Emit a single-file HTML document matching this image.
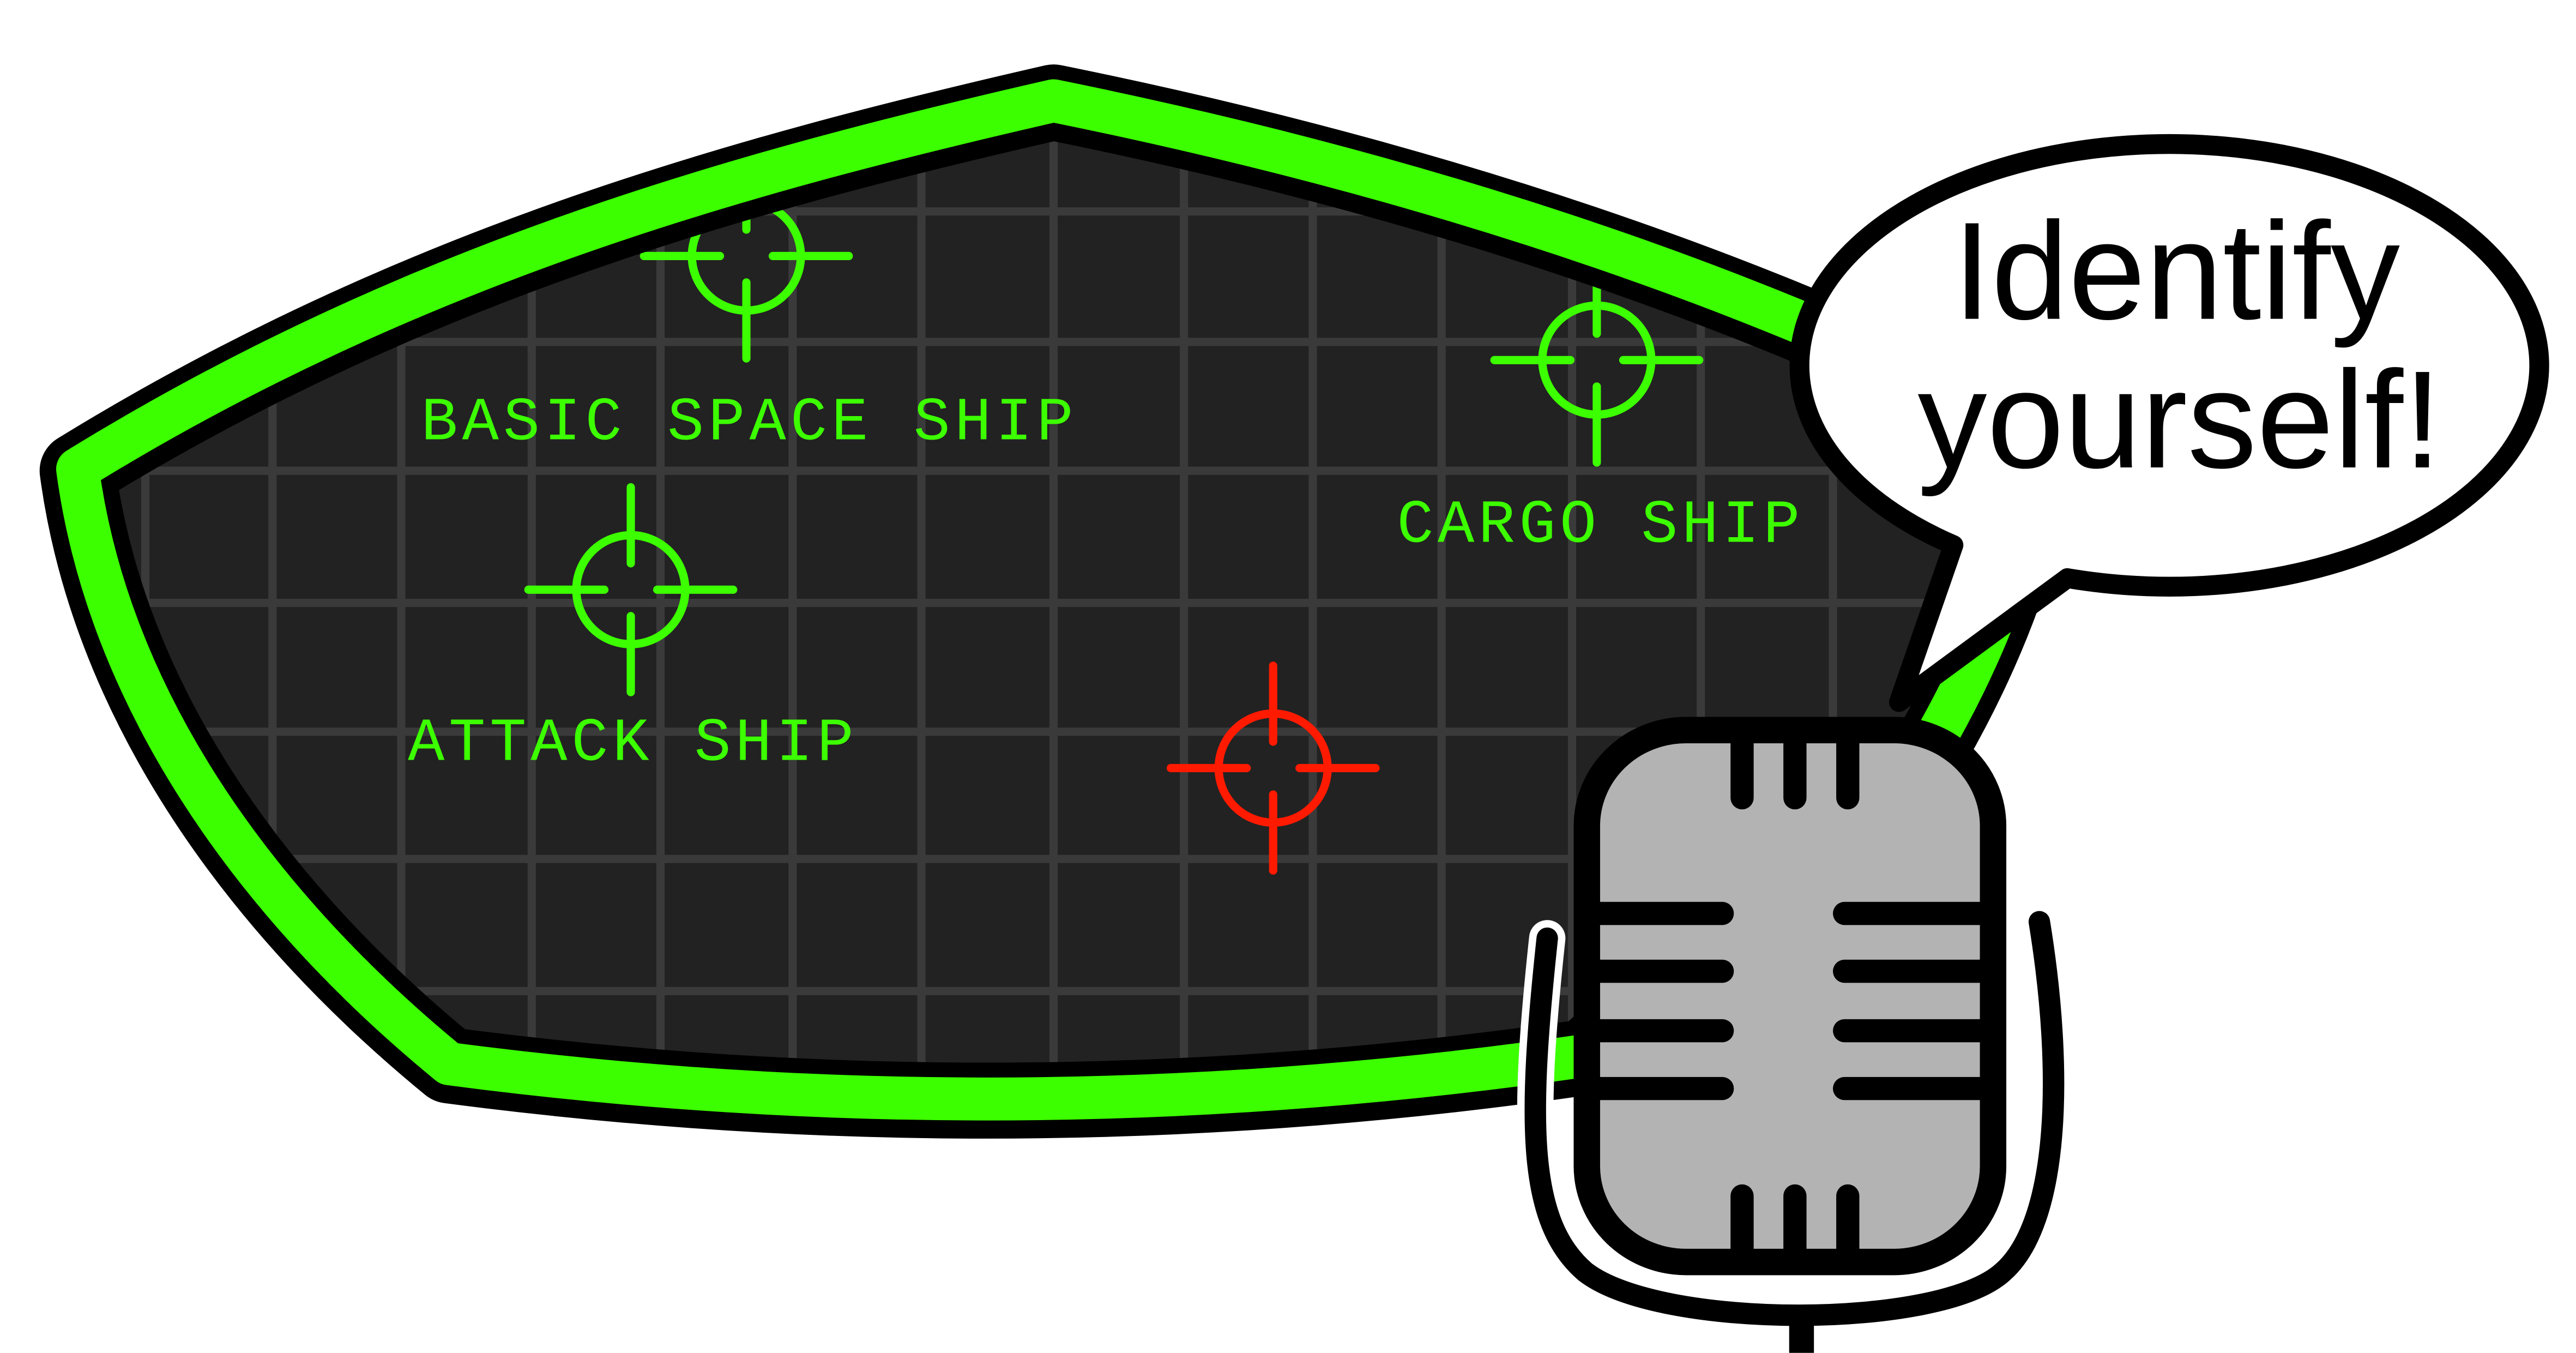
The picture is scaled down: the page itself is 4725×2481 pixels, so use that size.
<!DOCTYPE html>
<html><head><meta charset="utf-8"><style>html,body{margin:0;padding:0;background:#fff}svg{display:block}</style></head>
<body>
<svg width="4725" height="2481" viewBox="0 0 1560 819.1" preserveAspectRatio="none" xmlns="http://www.w3.org/2000/svg">
<defs>
<clipPath id="ci"><path d="M638,62 C 900,115 1095,190 1238,265 C 1225,340 1200,400 1168,455 L 960,640 Q 615,690 272,645 C 150,545 65,420 47,285 C 250,160 450,105 638,62 Z"/></clipPath>
</defs>
<g clip-path="url(#ci)">
<rect x="0" y="0" width="1560" height="819" fill="#222"/>
<g stroke="#3a3a3a" stroke-width="5">
<line x1="88" y1="0" x2="88" y2="819"/><line x1="165" y1="0" x2="165" y2="819"/><line x1="243" y1="0" x2="243" y2="819"/><line x1="322" y1="0" x2="322" y2="819"/><line x1="400" y1="0" x2="400" y2="819"/><line x1="480" y1="0" x2="480" y2="819"/><line x1="558" y1="0" x2="558" y2="819"/><line x1="638" y1="0" x2="638" y2="819"/><line x1="717" y1="0" x2="717" y2="819"/><line x1="795" y1="0" x2="795" y2="819"/><line x1="873" y1="0" x2="873" y2="819"/><line x1="952" y1="0" x2="952" y2="819"/><line x1="1030" y1="0" x2="1030" y2="819"/><line x1="1110" y1="0" x2="1110" y2="819"/><line x1="1188" y1="0" x2="1188" y2="819"/>
<line x1="0" y1="128" x2="1560" y2="128"/><line x1="0" y1="207" x2="1560" y2="207"/><line x1="0" y1="285" x2="1560" y2="285"/><line x1="0" y1="365" x2="1560" y2="365"/><line x1="0" y1="443" x2="1560" y2="443"/><line x1="0" y1="520" x2="1560" y2="520"/><line x1="0" y1="600" x2="1560" y2="600"/>
</g>
<g fill="none" stroke-width="5" stroke-linecap="round">
<g stroke="#3cff00" transform="translate(452,155)"><circle r="33"/><path d="M-62,0H-16M16,0H62M0,-62V-16M0,16V62"/></g>
<g stroke="#3cff00" transform="translate(967,218)"><circle r="33"/><path d="M-62,0H-16M16,0H62M0,-62V-16M0,16V62"/></g>
<g stroke="#3cff00" transform="translate(382,357)"><circle r="33"/><path d="M-62,0H-16M16,0H62M0,-62V-16M0,16V62"/></g>
<g stroke="#ff1a00" transform="translate(771,465)"><circle r="33"/><path d="M-62,0H-16M16,0H62M0,-62V-16M0,16V62"/></g>
</g>
<g fill="#3cff00" font-family="Liberation Mono, monospace" font-size="37">
<text x="255" y="266" textLength="395" lengthAdjust="spacing">BASIC SPACE SHIP</text>
<text x="247" y="460" textLength="270" lengthAdjust="spacing">ATTACK SHIP</text>
<text x="846" y="328" textLength="244" lengthAdjust="spacing">CARGO SHIP</text>
</g>
</g>
<path d="M638,62 C 900,115 1095,190 1238,265 C 1225,340 1200,400 1168,455 L 960,640 Q 615,690 272,645 C 150,545 65,420 47,285 C 250,160 450,105 638,62 Z" fill="none" stroke="#000" stroke-width="46" stroke-linejoin="round"/>
<path d="M638,62 C 900,115 1095,190 1238,265 C 1225,340 1200,400 1168,455 L 960,640 Q 615,690 272,645 C 150,545 65,420 47,285 C 250,160 450,105 638,62 Z" fill="none" stroke="#3cff00" stroke-width="26" stroke-linejoin="round" transform="translate(0,-1)"/>
<!-- speech bubble -->
<path d="M1183,330 A224,134 0 1,1 1252,350 L1150,425 Z" fill="#fff" stroke="#000" stroke-width="12" stroke-linejoin="round"/>
<g font-family="Liberation Sans, sans-serif" font-size="84" text-anchor="middle" fill="#000">
<text x="1318" y="193">Identify</text>
<text x="1320" y="283">yourself!</text>
</g>
<g transform="translate(-5,0)">
<path d="M942,568 C 930,680 930,740 965,770 C 1010,805 1180,805 1218,770 C 1252,740 1255,650 1240,558" fill="none" stroke="#fff" stroke-width="22" stroke-linecap="round"/>
<path d="M942,568 C 930,680 930,740 965,770 C 1010,805 1180,805 1218,770 C 1252,740 1255,650 1240,558" fill="none" stroke="#000" stroke-width="13" stroke-linecap="round"/>
<line x1="1096" y1="795" x2="1096" y2="819" stroke="#000" stroke-width="15"/>
<rect x="966" y="442" width="246" height="322" rx="60" ry="58" fill="#b3b3b3" stroke="#000" stroke-width="16"/>
<g stroke="#000" stroke-width="14" stroke-linecap="round">
<path d="M1060,445V483M1092,445V483M1124,445V483M1060,724V760M1092,724V760M1124,724V760"/>
<path d="M970,553H1048M970,588H1048M970,624H1048M970,659H1048"/>
<path d="M1122,553H1208M1122,588H1208M1122,624H1208M1122,659H1208"/>
</g>
</g>
</svg>
</body></html>
